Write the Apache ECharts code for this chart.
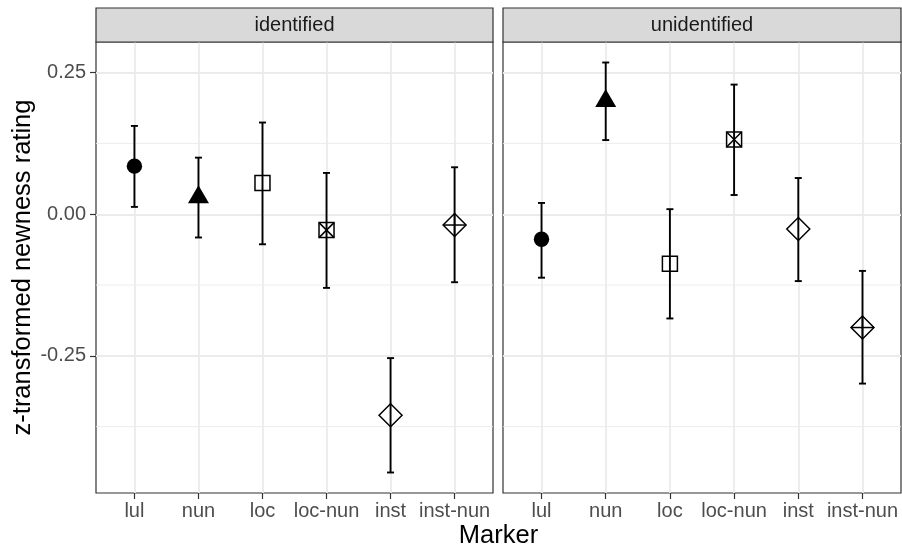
<!DOCTYPE html>
<html>
<head>
<meta charset="utf-8">
<script src="https://cdn.jsdelivr.net/npm/echarts@6/dist/echarts.min.js"></script>
<style>html,body{margin:0;padding:0;background:#fff}#c{width:902px;height:550px}</style>
</head>
<body>
<div id="c"></div>
<script>
const markers = ['lul', 'nun', 'loc', 'loc-nun', 'inst', 'inst-nun'];
const panels = ['identified', 'unidentified'];
const identifiedMean  = [0.085, 0.030, 0.055, -0.028, -0.355, -0.019];
const identifiedLower = [0.013, -0.041, -0.053, -0.130, -0.456, -0.120];
const identifiedUpper = [0.156, 0.100, 0.162, 0.073, -0.254, 0.083];
const unidentifiedMean  = [-0.044, 0.200, -0.0875, 0.132, -0.026, -0.200];
const unidentifiedLower = [-0.112, 0.131, -0.184, 0.034, -0.118, -0.299];
const unidentifiedUpper = [0.020, 0.268, 0.009, 0.229, 0.064, -0.100];
const yTicks = [-0.25, 0, 0.25];
const yMinorTicks = [-0.375, -0.125, 0.125];

const FONT = '"Liberation Sans", Arial, Helvetica, sans-serif';
const xPos = markers.map((_, i) => i + 1);
const X_MIN = 0.4, X_MAX = 6.6;
const Y_MIN = -0.4922, Y_MAX = 0.3042;

const chart = echarts.init(document.getElementById('c'), null, {renderer: 'canvas'});

function renderPoint(params, api) {
  const x = api.value(0), m = api.value(1), lo = api.value(2), hi = api.value(3), s = api.value(4);
  const pm = api.coord([x, m]);
  const pl = api.coord([x, lo]);
  const ph = api.coord([x, hi]);
  const cx = pm[0], cy = pm[1];
  const ls = {stroke: '#000', lineWidth: 1.9};
  const sh = {stroke: '#000', lineWidth: 1.5, fill: null};
  const cw = 3.5;
  const ch = [
    {type: 'line', shape: {x1: cx, y1: pl[1], x2: cx, y2: ph[1]}, style: ls},
    {type: 'line', shape: {x1: cx - cw, y1: pl[1], x2: cx + cw, y2: pl[1]}, style: ls},
    {type: 'line', shape: {x1: cx - cw, y1: ph[1], x2: cx + cw, y2: ph[1]}, style: ls}
  ];
  if (s === 0) {
    ch.push({type: 'circle', shape: {cx: cx, cy: cy, r: 7.7}, style: {fill: '#000'}});
  } else if (s === 1) {
    const xc = 10.5, r = xc / (Math.sqrt(3) / 2);
    ch.push({type: 'polygon', shape: {points: [[cx, cy - r], [cx + xc, cy + r / 2], [cx - xc, cy + r / 2]]}, style: {fill: '#000'}});
  } else if (s === 2 || s === 3) {
    const h = 7.5;
    ch.push({type: 'rect', shape: {x: cx - h, y: cy - h, width: 2 * h, height: 2 * h}, style: sh});
    if (s === 3) {
      ch.push({type: 'line', shape: {x1: cx - h, y1: cy - h, x2: cx + h, y2: cy + h}, style: sh});
      ch.push({type: 'line', shape: {x1: cx + h, y1: cy - h, x2: cx - h, y2: cy + h}, style: sh});
    }
  } else {
    const d = 11.5;
    ch.push({type: 'polygon', shape: {points: [[cx, cy - d], [cx + d, cy], [cx, cy + d], [cx - d, cy]]}, style: sh});
    if (s === 5) {
      ch.push({type: 'line', shape: {x1: cx - d, y1: cy, x2: cx + d, y2: cy}, style: sh});
      ch.push({type: 'line', shape: {x1: cx, y1: cy - d, x2: cx, y2: cy + d}, style: sh});
    }
  }
  return {type: 'group', children: ch};
}

function renderMinor(params, api) {
  const v = api.value(0);
  const a = api.coord([X_MIN, v]);
  const b = api.coord([X_MAX, v]);
  return {type: 'line', shape: {x1: a[0], y1: a[1], x2: b[0], y2: b[1]}, style: {stroke: '#EBEBEB', lineWidth: 0.9}};
}

const grids = [
  {left: 96, right: 409, top: 42, bottom: 57},
  {left: 503, right: 1, top: 42, bottom: 57}
];

const xAxes = grids.map((g, i) => ({
  type: 'value', gridIndex: i, min: X_MIN, max: X_MAX, position: 'bottom',
  axisLine: {show: false, onZero: false},
  axisTick: {show: true, length: 6, customValues: xPos, lineStyle: {color: '#333333', width: 1.2}},
  axisLabel: {show: true, customValues: xPos, margin: 8, color: '#4D4D4D', fontSize: 20, fontFamily: FONT,
    formatter: v => markers[Math.round(v) - 1] || ''},
  splitLine: {show: true, lineStyle: {color: '#EBEBEB', width: 1.8}}
}));

const yAxes = grids.map((g, i) => ({
  type: 'value', gridIndex: i, min: Y_MIN, max: Y_MAX, position: 'left',
  axisLine: {show: false, onZero: false},
  axisTick: {show: i === 0, length: 6, customValues: yTicks, lineStyle: {color: '#333333', width: 1.2}},
  axisLabel: {show: i === 0, customValues: yTicks, margin: 10, color: '#4D4D4D', fontSize: 20, fontFamily: FONT,
    formatter: v => v.toFixed(2)},
  splitLine: {show: true, lineStyle: {color: '#EBEBEB', width: 1.8}}
}));

const means = [identifiedMean, unidentifiedMean];
const lowers = [identifiedLower, unidentifiedLower];
const uppers = [identifiedUpper, unidentifiedUpper];

const series = [];
panels.forEach((p, i) => {
  series.push({
    type: 'custom', xAxisIndex: i, yAxisIndex: i, z: 1, silent: true,
    renderItem: renderMinor,
    data: yMinorTicks.map(v => [v])
  });
  series.push({
    type: 'custom', xAxisIndex: i, yAxisIndex: i, z: 5, silent: true,
    renderItem: renderPoint,
    data: markers.map((m, k) => [xPos[k], means[i][k], lowers[i][k], uppers[i][k], k])
  });
});

const graphic = [];
grids.forEach((g, i) => {
  const x0 = g.left, x1 = 902 - g.right;
  graphic.push({type: 'rect', shape: {x: x0, y: 8, width: x1 - x0, height: 34}, style: {fill: '#D9D9D9', stroke: '#333333', lineWidth: 1.2}, z: 10});
  graphic.push({type: 'text', x: (x0 + x1) / 2, y: 25, style: {text: panels[i], fill: '#1A1A1A', font: '20px ' + FONT, align: 'center', verticalAlign: 'middle'}, z: 11});
});
graphic.push({type: 'text', x: 498.5, y: 536, style: {text: 'Marker', fill: '#000', font: '25.5px ' + FONT, align: 'center', verticalAlign: 'middle'}});
graphic.push({type: 'text', x: 23, y: 267.5, rotation: Math.PI / 2, style: {text: 'z-transformed newness rating', fill: '#000', font: '25.5px ' + FONT, align: 'center', verticalAlign: 'middle'}});

chart.setOption({
  animation: false,
  backgroundColor: '#fff',
  grid: grids.map(g => Object.assign({show: true, borderColor: '#333333', borderWidth: 1.2, backgroundColor: 'transparent', containLabel: false}, g)),
  xAxis: xAxes,
  yAxis: yAxes,
  series: series,
  graphic: graphic
});
</script>
</body>
</html>
